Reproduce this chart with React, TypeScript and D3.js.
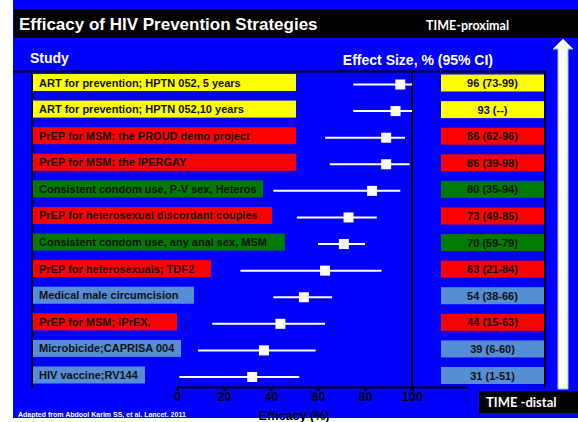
import React, { useEffect, useRef } from 'react';
import * as d3 from 'd3';

// rows, top to bottom
const studies = [
  'ART for prevention; HPTN 052, 5 years',
  'ART for prevention; HPTN 052,10 years',
  'PrEP for MSM: the PROUD demo project',
  'PrEP for MSM: the IPERGAY',
  'Consistent condom use, P-V sex, Heteros',
  'PrEP for heterosexual discordant couples',
  'Consistent condom use, any anal sex, MSM',
  'PrEP for heterosexuals; TDF2',
  'Medical male circumcision',
  'PrEP for MSM; iPrEX,',
  'Microbicide;CAPRISA 004',
  'HIV vaccine;RV144',
];
const groups = ['ART', 'ART', 'PrEP', 'PrEP', 'Condom', 'PrEP', 'Condom', 'PrEP', 'Other', 'PrEP', 'Other', 'Other'];

// plotted point estimate and CI ends (as drawn on the slide)
const effect = [95, 93, 89, 89, 83, 73, 71, 63, 54, 44, 37, 32];
const ciLow = [75, 75, 63, 65, 41, 51, 60, 27, 41, 15, 9, 1];
const ciHigh = [100, 100, 97, 99, 95, 85, 80, 87, 66, 63, 59, 52];

// text in the right column
const ciLabels = [
  '96 (73-99)', '93 (--)', '86 (62-96)', '86 (39-98)', '80 (35-94)', '73 (49-85)',
  '70 (59-79)', '63 (21-84)', '54 (38-66)', '44 (15-63)', '39 (6-60)', '31 (1-51)',
];

const xTicks = [0, 20, 40, 60, 80, 100];

// label box widths (text boxes on the original slide)
const labelBoxW = [263, 263, 263, 263, 230, 239, 252, 178, 161, 144, 148, 112];

const W = 578;
const H = 422;
const FONT = '"Liberation Sans", Arial, sans-serif';
const FONT2 = 'Lato, "Open Sans", sans-serif';

const App = () => {
  const ref = useRef<SVGSVGElement | null>(null);

  useEffect(() => {
    if (!ref.current) return;
    const svg = d3.select(ref.current);
    svg.selectAll('*').remove();

    const color = d3.scaleOrdinal<string, string>()
      .domain(['ART', 'PrEP', 'Condom', 'Other'])
      .range(['#ffff00', '#ff0000', '#007a00', '#558ed5']);

    const x = d3.scaleLinear().domain([0, 123.4]).range([177, 467]);
    const y = d3.scaleLinear().domain([0, studies.length - 1]).range([82.5, 375]);
    const idx = d3.range(studies.length);

    // background
    svg.append('rect').attr('x', 13).attr('y', 0).attr('width', W - 13).attr('height', 418).attr('fill', '#0000ff');

    // title bar
    svg.append('rect').attr('x', 14).attr('y', 9).attr('width', W - 14).attr('height', 29).attr('fill', '#000');
    svg.append('text').attr('x', 19).attr('y', 30)
      .attr('font-family', FONT).attr('font-weight', 'bold').attr('font-size', 17).attr('fill', '#fff')
      .text('Efficacy of HIV Prevention Strategies');
    svg.append('text').attr('x', 509).attr('y', 30).attr('text-anchor', 'end')
      .attr('font-family', FONT2).attr('font-weight', 'bold').attr('font-size', 12.5).attr('fill', '#fff')
      .text('TIME-proximal');

    // headers
    svg.append('text').attr('x', 30).attr('y', 63)
      .attr('font-family', FONT).attr('font-weight', 'bold').attr('font-size', 14).attr('fill', '#fff')
      .text('Study');
    svg.append('text').attr('x', 493).attr('y', 65).attr('text-anchor', 'end')
      .attr('font-family', FONT).attr('font-weight', 'bold').attr('font-size', 14).attr('fill', '#fff')
      .text('Effect Size, % (95% CI)');

    // frame lines
    const lines = svg.append('g').attr('stroke', '#000').attr('stroke-width', 2);
    lines.append('line').attr('x1', 13).attr('x2', 546).attr('y1', 71.5).attr('y2', 71.5);
    lines.append('line').attr('x1', 32.5).attr('x2', 32.5).attr('y1', 71).attr('y2', 388);
    lines.append('line').attr('x1', x(100)).attr('x2', x(100)).attr('y1', 71).attr('y2', 387);
    lines.append('line').attr('x1', 545).attr('x2', 545).attr('y1', 71).attr('y2', 387);

    // study labels
    const rows = svg.append('g').selectAll('g').data(idx).enter().append('g');
    rows.append('rect')
      .attr('x', 33).attr('y', (i) => y(i) - 8.5)
      .attr('width', (i) => labelBoxW[i]).attr('height', 17)
      .attr('fill', (i) => color(groups[i]));
    rows.append('text')
      .attr('x', 39).attr('y', (i) => y(i) + 4)
      .attr('font-family', FONT).attr('font-weight', 'bold').attr('font-size', 11).attr('fill', '#111')
      .text((i) => studies[i]);

    // CI whiskers + squares
    const marks = svg.append('g').selectAll('g').data(idx).enter().append('g');
    marks.append('line')
      .attr('x1', (i) => x(ciLow[i])).attr('x2', (i) => x(ciHigh[i]))
      .attr('y1', (i) => y(i) + 2).attr('y2', (i) => y(i) + 2)
      .attr('stroke', '#fff').attr('stroke-width', 2);
    marks.append('rect')
      .attr('x', (i) => x(effect[i]) - 5).attr('y', (i) => y(i) + 2 - 5)
      .attr('width', 10).attr('height', 10).attr('fill', '#fff');

    // CI column
    const ci = svg.append('g').selectAll('g').data(idx).enter().append('g');
    ci.append('rect')
      .attr('x', 441).attr('y', (i) => y(i) - 8)
      .attr('width', 103).attr('height', 17)
      .attr('fill', (i) => color(groups[i]));
    ci.append('text')
      .attr('x', 492.5).attr('y', (i) => y(i) + 4.5).attr('text-anchor', 'middle')
      .attr('font-family', FONT).attr('font-weight', 'bold').attr('font-size', 11).attr('fill', '#111')
      .text((i) => ciLabels[i]);

    // x axis
    const axis = svg.append('g').attr('transform', 'translate(0,387)')
      .call(d3.axisBottom(x).tickValues(xTicks).tickSize(4).tickSizeOuter(0).tickPadding(1));
    axis.select('.domain').attr('stroke', '#000').attr('stroke-width', 2);
    axis.selectAll('.tick line').attr('stroke', '#000').attr('stroke-width', 2);
    axis.selectAll('.tick text')
      .attr('font-family', FONT).attr('font-weight', 'bold').attr('font-size', 12.5).attr('fill', '#000');
    svg.append('text').attr('x', 294).attr('y', 420).attr('text-anchor', 'middle')
      .attr('font-family', FONT).attr('font-weight', 'bold').attr('font-size', 12.5).attr('fill', '#000')
      .text('Efficacy (%)');

    // source note
    svg.append('text').attr('x', 18).attr('y', 417)
      .attr('font-family', FONT).attr('font-weight', 'bold').attr('font-size', 7).attr('fill', '#fff')
      .text('Adapted from Abdool Karim SS, et al. Lancet. 2011');

    // time arrow
    svg.append('path')
      .attr('d', 'M558,389 L558,49 L553,49 L563,39 L573,49 L568,49 L568,389 Z')
      .attr('fill', '#fff').attr('stroke', '#9fc3ee').attr('stroke-width', 1);

    svg.append('rect').attr('x', 479).attr('y', 391).attr('width', W - 479).attr('height', 22).attr('fill', '#000');
    svg.append('text').attr('x', 486).attr('y', 407)
      .attr('font-family', FONT2).attr('font-weight', 'bold').attr('font-size', 13).attr('fill', '#fff')
      .text('TIME -distal');
  }, []);

  return (
    <svg ref={ref} width={W} height={H} style={{ position: 'absolute', left: 0, top: 0, background: '#fff' }} />
  );
};

export default App;
